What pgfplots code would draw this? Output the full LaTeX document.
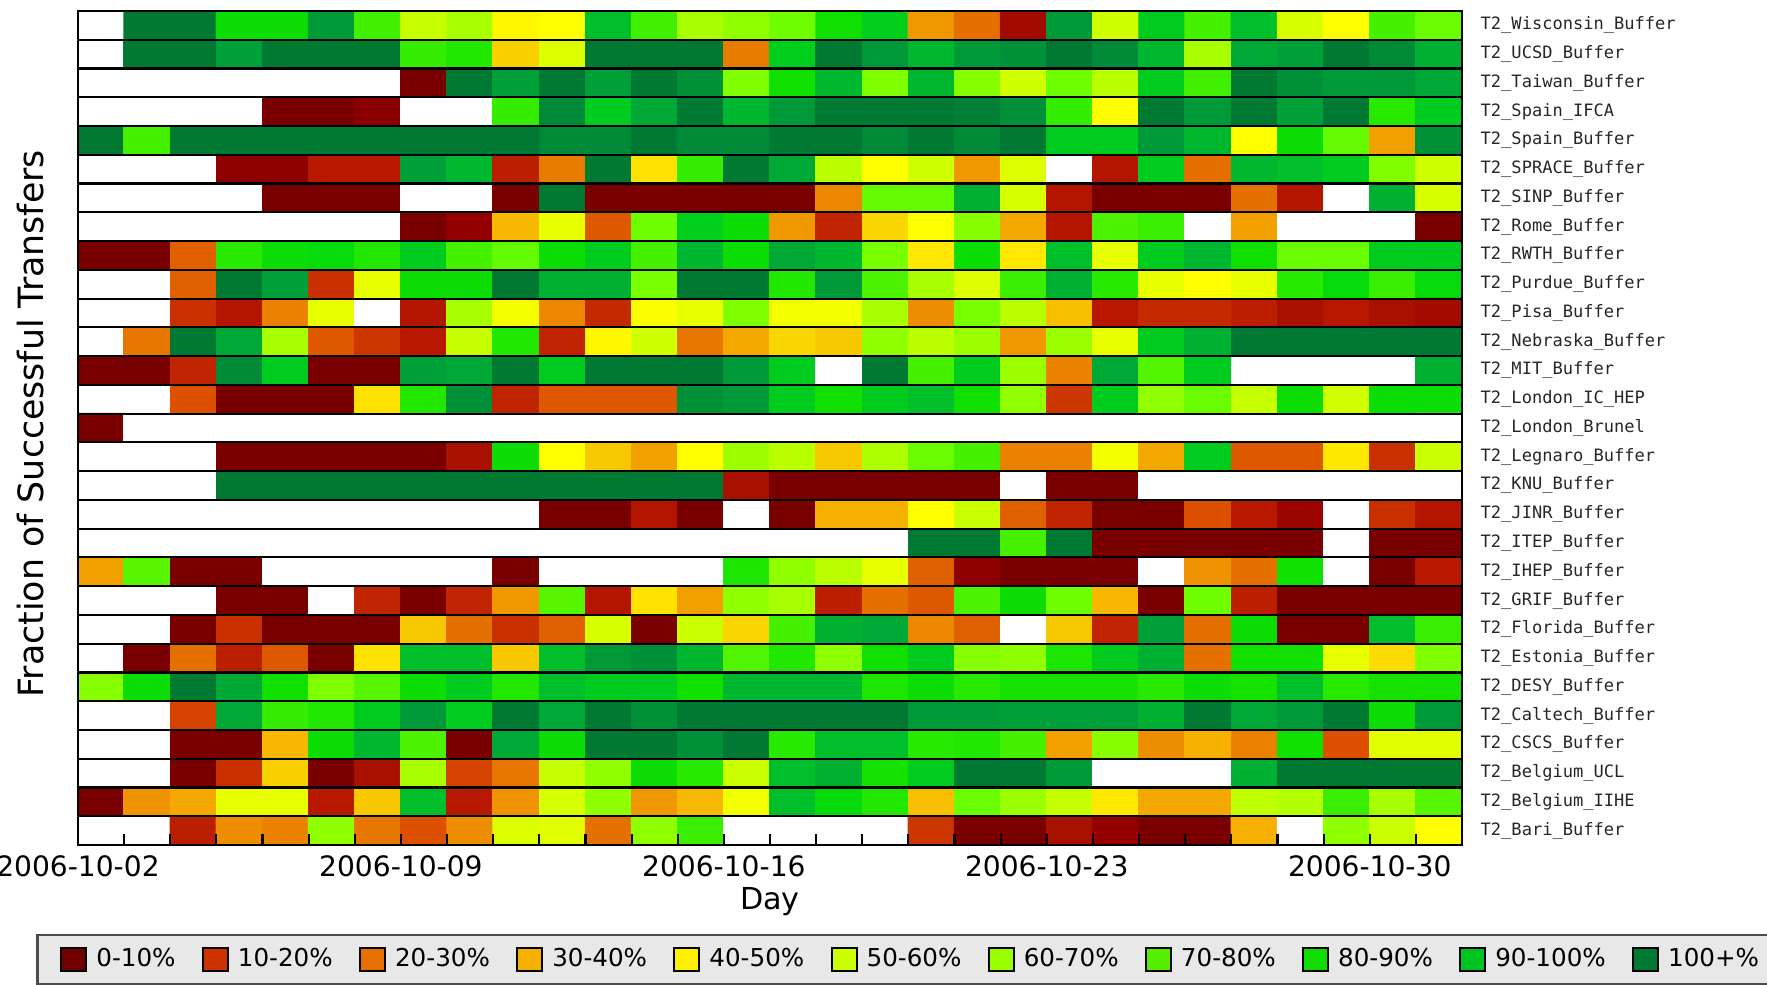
\documentclass[border=0pt]{standalone}
\usepackage{fontspec}
\setmainfont{DejaVu Sans}
\newfontfamily\labfont{DejaVu Sans Mono}
\usepackage{pgfplots}
\pgfplotsset{compat=1.18}
\usetikzlibrary{calc}
\definecolor{lc0}{HTML}{700000}
\definecolor{lc1}{HTML}{CC3300}
\definecolor{lc2}{HTML}{E67000}
\definecolor{lc3}{HTML}{F5B000}
\definecolor{lc4}{HTML}{FFF000}
\definecolor{lc5}{HTML}{CCFF00}
\definecolor{lc6}{HTML}{99FF00}
\definecolor{lc7}{HTML}{55EE00}
\definecolor{lc8}{HTML}{11DD00}
\definecolor{lc9}{HTML}{00C520}
\definecolor{lc10}{HTML}{007A33}
\definecolor{legbg}{HTML}{E8E8E8}
\begin{document}
\begin{tikzpicture}
\begin{axis}[
  scale only axis, width=13.84cm, height=8.34cm,
  xmin=0, xmax=30, ymin=0, ymax=29, y dir=reverse,
  axis on top,
  axis line style={black, line width=0.6pt},
  colormap={hm}{rgb255(0pt)=(255,255,255) rgb255(9pt)=(255,255,255) rgb255(12pt)=(122,0,0) rgb255(17pt)=(148,0,0) rgb255(20pt)=(168,16,0) rgb255(23pt)=(184,24,0) rgb255(27pt)=(200,48,0) rgb255(32pt)=(220,80,0) rgb255(36pt)=(228,112,0) rgb255(40pt)=(236,136,0) rgb255(43pt)=(240,152,0) rgb255(46pt)=(245,176,0) rgb255(50pt)=(248,208,0) rgb255(54pt)=(255,232,0) rgb255(57pt)=(255,255,0) rgb255(61pt)=(232,255,0) rgb255(65pt)=(208,255,0) rgb255(68pt)=(192,255,0) rgb255(72pt)=(168,255,0) rgb255(76pt)=(144,255,0) rgb255(80pt)=(112,255,0) rgb255(84pt)=(88,245,0) rgb255(88pt)=(64,240,0) rgb255(92pt)=(40,234,0) rgb255(96pt)=(16,224,0) rgb255(99pt)=(0,216,16) rgb255(102pt)=(0,204,32) rgb255(105pt)=(0,184,48) rgb255(108pt)=(0,160,56) rgb255(111pt)=(0,138,56) rgb255(114pt)=(0,122,51)},
  point meta min=-10, point meta max=104,
  xtick={0,7,14,21,28},
  xticklabels={2006-10-02,2006-10-09,2006-10-16,2006-10-23,2006-10-30},
  minor xtick={1,...,29},
  xtick pos=left,
  major tick length=0.11cm, minor tick length=0.11cm,
  tick style={black, line width=0.6pt},
  xticklabel style={font=\fontsize{8}{9}\selectfont, inner sep=0pt, anchor=north, yshift=-0.1cm},
  ytick={0.5,1.5,...,28.5},
  yticklabels={T2\_Wisconsin\_Buffer, T2\_UCSD\_Buffer, T2\_Taiwan\_Buffer, T2\_Spain\_IFCA, T2\_Spain\_Buffer, T2\_SPRACE\_Buffer, T2\_SINP\_Buffer, T2\_Rome\_Buffer, T2\_RWTH\_Buffer, T2\_Purdue\_Buffer, T2\_Pisa\_Buffer, T2\_Nebraska\_Buffer, T2\_MIT\_Buffer, T2\_London\_IC\_HEP, T2\_London\_Brunel, T2\_Legnaro\_Buffer, T2\_KNU\_Buffer, T2\_JINR\_Buffer, T2\_ITEP\_Buffer, T2\_IHEP\_Buffer, T2\_GRIF\_Buffer, T2\_Florida\_Buffer, T2\_Estonia\_Buffer, T2\_DESY\_Buffer, T2\_Caltech\_Buffer, T2\_CSCS\_Buffer, T2\_Belgium\_UCL, T2\_Belgium\_IIHE, T2\_Bari\_Buffer},
  yticklabel pos=right,
  ytick style={draw=none},
  yticklabel style={font=\labfont\fontsize{4.85}{6}\selectfont, anchor=west, inner sep=0pt, xshift=0.18cm, text=black!85},
  minor ytick={1,...,28},
  yminorgrids=true,
  minor grid style={black, line width=0.6pt},
  ylabel={Fraction of Successful Transfers},
  every axis y label/.style={at={(axis description cs:-0.034,0.505)}, rotate=90, anchor=center, font=\fontsize{9.9}{11}\selectfont},
  xlabel={Day},
  every axis x label/.style={at={(axis description cs:0.5,-0.0675)}, anchor=center, font=\fontsize{8.6}{10}\selectfont},
  legend columns=11,
  legend image code/.code={\draw[#1, draw=black, line width=0.6pt] (0cm,-0.115cm) rectangle (0.25cm,0.115cm);},
  legend style={at={(axis description cs:-0.0303,-0.1067)}, anchor=north west,
    fill=legbg, draw=black!70, line width=0.7pt,
    inner xsep=0.23cm, inner ysep=0.12cm,
    font=\fontsize{7}{8}\selectfont,
    nodes={inner sep=0pt, anchor=west},
    /tikz/every odd column/.append style={column sep=0.09cm},
    /tikz/every even column/.append style={column sep=0.262cm}},
]
\addplot[matrix plot*, mesh/cols=30, point meta=explicit, forget plot] coordinates {
(0.5,0.5)[-10] (1.5,0.5)[104] (2.5,0.5)[104] (3.5,0.5)[87] (4.5,0.5)[87] (5.5,0.5)[99] (6.5,0.5)[78] (7.5,0.5)[57] (8.5,0.5)[62] (9.5,0.5)[46] (10.5,0.5)[47] (11.5,0.5)[94] (12.5,0.5)[78] (13.5,0.5)[62] (14.5,0.5)[66] (15.5,0.5)[70] (16.5,0.5)[86] (17.5,0.5)[91] (18.5,0.5)[33] (19.5,0.5)[26] (20.5,0.5)[9] (21.5,0.5)[99] (22.5,0.5)[55] (23.5,0.5)[92] (24.5,0.5)[77] (25.5,0.5)[94] (26.5,0.5)[54] (27.5,0.5)[47] (28.5,0.5)[77] (29.5,0.5)[71]
(0.5,1.5)[-10] (1.5,1.5)[104] (2.5,1.5)[104] (3.5,1.5)[98] (4.5,1.5)[104] (5.5,1.5)[104] (6.5,1.5)[104] (7.5,1.5)[80] (8.5,1.5)[83] (9.5,1.5)[40] (10.5,1.5)[53] (11.5,1.5)[104] (12.5,1.5)[104] (13.5,1.5)[104] (14.5,1.5)[28] (15.5,1.5)[91] (16.5,1.5)[104] (17.5,1.5)[99] (18.5,1.5)[95] (19.5,1.5)[99] (20.5,1.5)[100] (21.5,1.5)[104] (22.5,1.5)[101] (23.5,1.5)[95] (24.5,1.5)[62] (25.5,1.5)[97] (26.5,1.5)[98] (27.5,1.5)[104] (28.5,1.5)[101] (29.5,1.5)[96]
(0.5,2.5)[-10] (1.5,2.5)[-10] (2.5,2.5)[-10] (3.5,2.5)[-10] (4.5,2.5)[-10] (5.5,2.5)[-10] (6.5,2.5)[-10] (7.5,2.5)[2] (8.5,2.5)[104] (9.5,2.5)[98] (10.5,2.5)[104] (11.5,2.5)[98] (12.5,2.5)[104] (13.5,2.5)[100] (14.5,2.5)[68] (15.5,2.5)[86] (16.5,2.5)[95] (17.5,2.5)[68] (18.5,2.5)[95] (19.5,2.5)[67] (20.5,2.5)[55] (21.5,2.5)[70] (22.5,2.5)[59] (23.5,2.5)[92] (24.5,2.5)[78] (25.5,2.5)[104] (26.5,2.5)[100] (27.5,2.5)[99] (28.5,2.5)[99] (29.5,2.5)[97]
(0.5,3.5)[-10] (1.5,3.5)[-10] (2.5,3.5)[-10] (3.5,3.5)[-10] (4.5,3.5)[2] (5.5,3.5)[2] (6.5,3.5)[5] (7.5,3.5)[-10] (8.5,3.5)[-10] (9.5,3.5)[80] (10.5,3.5)[101] (11.5,3.5)[92] (12.5,3.5)[97] (13.5,3.5)[104] (14.5,3.5)[95] (15.5,3.5)[99] (16.5,3.5)[104] (17.5,3.5)[104] (18.5,3.5)[104] (19.5,3.5)[103] (20.5,3.5)[100] (21.5,3.5)[80] (22.5,3.5)[47] (23.5,3.5)[104] (24.5,3.5)[99] (25.5,3.5)[104] (26.5,3.5)[98] (27.5,3.5)[104] (28.5,3.5)[82] (29.5,3.5)[92]
(0.5,4.5)[104] (1.5,4.5)[77] (2.5,4.5)[104] (3.5,4.5)[104] (4.5,4.5)[104] (5.5,4.5)[104] (6.5,4.5)[104] (7.5,4.5)[104] (8.5,4.5)[104] (9.5,4.5)[104] (10.5,4.5)[101] (11.5,4.5)[101] (12.5,4.5)[104] (13.5,4.5)[101] (14.5,4.5)[101] (15.5,4.5)[104] (16.5,4.5)[104] (17.5,4.5)[101] (18.5,4.5)[104] (19.5,4.5)[101] (20.5,4.5)[104] (21.5,4.5)[92] (22.5,4.5)[92] (23.5,4.5)[99] (24.5,4.5)[95] (25.5,4.5)[47] (26.5,4.5)[87] (27.5,4.5)[72] (28.5,4.5)[34] (29.5,4.5)[100]
(0.5,5.5)[-10] (1.5,5.5)[-10] (2.5,5.5)[-10] (3.5,5.5)[6] (4.5,5.5)[6] (5.5,5.5)[13] (6.5,5.5)[13] (7.5,5.5)[98] (8.5,5.5)[95] (9.5,5.5)[14] (10.5,5.5)[28] (11.5,5.5)[104] (12.5,5.5)[43] (13.5,5.5)[80] (14.5,5.5)[104] (15.5,5.5)[97] (16.5,5.5)[59] (17.5,5.5)[47] (18.5,5.5)[55] (19.5,5.5)[33] (20.5,5.5)[53] (21.5,5.5)[-10] (22.5,5.5)[12] (23.5,5.5)[92] (24.5,5.5)[26] (25.5,5.5)[95] (26.5,5.5)[94] (27.5,5.5)[92] (28.5,5.5)[68] (29.5,5.5)[55]
(0.5,6.5)[-10] (1.5,6.5)[-10] (2.5,6.5)[-10] (3.5,6.5)[-10] (4.5,6.5)[2] (5.5,6.5)[2] (6.5,6.5)[2] (7.5,6.5)[-10] (8.5,6.5)[-10] (9.5,6.5)[2] (10.5,6.5)[104] (11.5,6.5)[2] (12.5,6.5)[2] (13.5,6.5)[2] (14.5,6.5)[2] (15.5,6.5)[2] (16.5,6.5)[30] (17.5,6.5)[72] (18.5,6.5)[72] (19.5,6.5)[96] (20.5,6.5)[54] (21.5,6.5)[12] (22.5,6.5)[2] (23.5,6.5)[2] (24.5,6.5)[2] (25.5,6.5)[26] (26.5,6.5)[12] (27.5,6.5)[-10] (28.5,6.5)[96] (29.5,6.5)[54]
(0.5,7.5)[-10] (1.5,7.5)[-10] (2.5,7.5)[-10] (3.5,7.5)[-10] (4.5,7.5)[-10] (5.5,7.5)[-10] (6.5,7.5)[-10] (7.5,7.5)[2] (8.5,7.5)[7] (9.5,7.5)[37] (10.5,7.5)[51] (11.5,7.5)[23] (12.5,7.5)[70] (13.5,7.5)[91] (14.5,7.5)[87] (15.5,7.5)[33] (16.5,7.5)[15] (17.5,7.5)[41] (18.5,7.5)[47] (19.5,7.5)[67] (20.5,7.5)[35] (21.5,7.5)[12] (22.5,7.5)[76] (23.5,7.5)[79] (24.5,7.5)[-10] (25.5,7.5)[34] (26.5,7.5)[-10] (27.5,7.5)[-10] (28.5,7.5)[-10] (29.5,7.5)[2]
(0.5,8.5)[2] (1.5,8.5)[2] (2.5,8.5)[24] (3.5,8.5)[82] (4.5,8.5)[87] (5.5,8.5)[88] (6.5,8.5)[83] (7.5,8.5)[92] (8.5,8.5)[77] (9.5,8.5)[72] (10.5,8.5)[87] (11.5,8.5)[92] (12.5,8.5)[77] (13.5,8.5)[95] (14.5,8.5)[87] (15.5,8.5)[97] (16.5,8.5)[95] (17.5,8.5)[69] (18.5,8.5)[44] (19.5,8.5)[87] (20.5,8.5)[44] (21.5,8.5)[94] (22.5,8.5)[51] (23.5,8.5)[92] (24.5,8.5)[95] (25.5,8.5)[86] (26.5,8.5)[71] (27.5,8.5)[71] (28.5,8.5)[92] (29.5,8.5)[92]
(0.5,9.5)[-10] (1.5,9.5)[-10] (2.5,9.5)[24] (3.5,9.5)[104] (4.5,9.5)[98] (5.5,9.5)[17] (6.5,9.5)[51] (7.5,9.5)[87] (8.5,9.5)[87] (9.5,9.5)[104] (10.5,9.5)[96] (11.5,9.5)[96] (12.5,9.5)[69] (13.5,9.5)[104] (14.5,9.5)[104] (15.5,9.5)[83] (16.5,9.5)[99] (17.5,9.5)[76] (18.5,9.5)[62] (19.5,9.5)[53] (20.5,9.5)[79] (21.5,9.5)[96] (22.5,9.5)[82] (23.5,9.5)[51] (24.5,9.5)[47] (25.5,9.5)[51] (26.5,9.5)[82] (27.5,9.5)[88] (28.5,9.5)[79] (29.5,9.5)[88]
(0.5,10.5)[-10] (1.5,10.5)[-10] (2.5,10.5)[17] (3.5,10.5)[12] (4.5,10.5)[29] (5.5,10.5)[51] (6.5,10.5)[-10] (7.5,10.5)[12] (8.5,10.5)[62] (9.5,10.5)[49] (10.5,10.5)[30] (11.5,10.5)[16] (12.5,10.5)[48] (13.5,10.5)[51] (14.5,10.5)[68] (15.5,10.5)[49] (16.5,10.5)[49] (17.5,10.5)[62] (18.5,10.5)[31] (19.5,10.5)[69] (20.5,10.5)[59] (21.5,10.5)[38] (22.5,10.5)[13] (23.5,10.5)[16] (24.5,10.5)[16] (25.5,10.5)[14] (26.5,10.5)[10] (27.5,10.5)[13] (28.5,10.5)[10] (29.5,10.5)[9]
(0.5,11.5)[-10] (1.5,11.5)[27] (2.5,11.5)[104] (3.5,11.5)[97] (4.5,11.5)[62] (5.5,11.5)[23] (6.5,11.5)[18] (7.5,11.5)[13] (8.5,11.5)[57] (9.5,11.5)[83] (10.5,11.5)[15] (11.5,11.5)[46] (12.5,11.5)[55] (13.5,11.5)[27] (14.5,11.5)[35] (15.5,11.5)[41] (16.5,11.5)[39] (17.5,11.5)[66] (18.5,11.5)[59] (19.5,11.5)[64] (20.5,11.5)[33] (21.5,11.5)[64] (22.5,11.5)[51] (23.5,11.5)[92] (24.5,11.5)[96] (25.5,11.5)[104] (26.5,11.5)[104] (27.5,11.5)[104] (28.5,11.5)[104] (29.5,11.5)[104]
(0.5,12.5)[2] (1.5,12.5)[2] (2.5,12.5)[15] (3.5,12.5)[101] (4.5,12.5)[92] (5.5,12.5)[2] (6.5,12.5)[2] (7.5,12.5)[98] (8.5,12.5)[97] (9.5,12.5)[104] (10.5,12.5)[92] (11.5,12.5)[104] (12.5,12.5)[104] (13.5,12.5)[104] (14.5,12.5)[99] (15.5,12.5)[92] (16.5,12.5)[-10] (17.5,12.5)[104] (18.5,12.5)[77] (19.5,12.5)[92] (20.5,12.5)[64] (21.5,12.5)[29] (22.5,12.5)[97] (23.5,12.5)[75] (24.5,12.5)[92] (25.5,12.5)[-10] (26.5,12.5)[-10] (27.5,12.5)[-10] (28.5,12.5)[-10] (29.5,12.5)[96]
(0.5,13.5)[-10] (1.5,13.5)[-10] (2.5,13.5)[22] (3.5,13.5)[2] (4.5,13.5)[2] (5.5,13.5)[2] (6.5,13.5)[43] (7.5,13.5)[83] (8.5,13.5)[100] (9.5,13.5)[15] (10.5,13.5)[23] (11.5,13.5)[23] (12.5,13.5)[23] (13.5,13.5)[100] (14.5,13.5)[99] (15.5,13.5)[92] (16.5,13.5)[86] (17.5,13.5)[92] (18.5,13.5)[94] (19.5,13.5)[86] (20.5,13.5)[66] (21.5,13.5)[18] (22.5,13.5)[92] (23.5,13.5)[66] (24.5,13.5)[71] (25.5,13.5)[57] (26.5,13.5)[87] (27.5,13.5)[55] (28.5,13.5)[87] (29.5,13.5)[87]
(0.5,14.5)[2] (1.5,14.5)[-10] (2.5,14.5)[-10] (3.5,14.5)[-10] (4.5,14.5)[-10] (5.5,14.5)[-10] (6.5,14.5)[-10] (7.5,14.5)[-10] (8.5,14.5)[-10] (9.5,14.5)[-10] (10.5,14.5)[-10] (11.5,14.5)[-10] (12.5,14.5)[-10] (13.5,14.5)[-10] (14.5,14.5)[-10] (15.5,14.5)[-10] (16.5,14.5)[-10] (17.5,14.5)[-10] (18.5,14.5)[-10] (19.5,14.5)[-10] (20.5,14.5)[-10] (21.5,14.5)[-10] (22.5,14.5)[-10] (23.5,14.5)[-10] (24.5,14.5)[-10] (25.5,14.5)[-10] (26.5,14.5)[-10] (27.5,14.5)[-10] (28.5,14.5)[-10] (29.5,14.5)[-10]
(0.5,15.5)[-10] (1.5,15.5)[-10] (2.5,15.5)[-10] (3.5,15.5)[2] (4.5,15.5)[2] (5.5,15.5)[2] (6.5,15.5)[2] (7.5,15.5)[2] (8.5,15.5)[10] (9.5,15.5)[87] (10.5,15.5)[47] (11.5,15.5)[39] (12.5,15.5)[34] (13.5,15.5)[47] (14.5,15.5)[64] (15.5,15.5)[59] (16.5,15.5)[39] (17.5,15.5)[61] (18.5,15.5)[71] (19.5,15.5)[77] (20.5,15.5)[29] (21.5,15.5)[29] (22.5,15.5)[49] (23.5,15.5)[35] (24.5,15.5)[92] (25.5,15.5)[23] (26.5,15.5)[23] (27.5,15.5)[44] (28.5,15.5)[17] (29.5,15.5)[56]
(0.5,16.5)[-10] (1.5,16.5)[-10] (2.5,16.5)[-10] (3.5,16.5)[104] (4.5,16.5)[104] (5.5,16.5)[104] (6.5,16.5)[104] (7.5,16.5)[104] (8.5,16.5)[104] (9.5,16.5)[104] (10.5,16.5)[104] (11.5,16.5)[104] (12.5,16.5)[104] (13.5,16.5)[104] (14.5,16.5)[10] (15.5,16.5)[2] (16.5,16.5)[2] (17.5,16.5)[2] (18.5,16.5)[2] (19.5,16.5)[2] (20.5,16.5)[-10] (21.5,16.5)[2] (22.5,16.5)[2] (23.5,16.5)[-10] (24.5,16.5)[-10] (25.5,16.5)[-10] (26.5,16.5)[-10] (27.5,16.5)[-10] (28.5,16.5)[-10] (29.5,16.5)[-10]
(0.5,17.5)[-10] (1.5,17.5)[-10] (2.5,17.5)[-10] (3.5,17.5)[-10] (4.5,17.5)[-10] (5.5,17.5)[-10] (6.5,17.5)[-10] (7.5,17.5)[-10] (8.5,17.5)[-10] (9.5,17.5)[-10] (10.5,17.5)[2] (11.5,17.5)[2] (12.5,17.5)[12] (13.5,17.5)[2] (14.5,17.5)[-10] (15.5,17.5)[2] (16.5,17.5)[36] (17.5,17.5)[36] (18.5,17.5)[47] (19.5,17.5)[56] (20.5,17.5)[24] (21.5,17.5)[15] (22.5,17.5)[2] (23.5,17.5)[2] (24.5,17.5)[22] (25.5,17.5)[13] (26.5,17.5)[8] (27.5,17.5)[-10] (28.5,17.5)[17] (29.5,17.5)[12]
(0.5,18.5)[-10] (1.5,18.5)[-10] (2.5,18.5)[-10] (3.5,18.5)[-10] (4.5,18.5)[-10] (5.5,18.5)[-10] (6.5,18.5)[-10] (7.5,18.5)[-10] (8.5,18.5)[-10] (9.5,18.5)[-10] (10.5,18.5)[-10] (11.5,18.5)[-10] (12.5,18.5)[-10] (13.5,18.5)[-10] (14.5,18.5)[-10] (15.5,18.5)[-10] (16.5,18.5)[-10] (17.5,18.5)[-10] (18.5,18.5)[104] (19.5,18.5)[104] (20.5,18.5)[77] (21.5,18.5)[104] (22.5,18.5)[2] (23.5,18.5)[2] (24.5,18.5)[2] (25.5,18.5)[2] (26.5,18.5)[2] (27.5,18.5)[-10] (28.5,18.5)[2] (29.5,18.5)[2]
(0.5,19.5)[34] (1.5,19.5)[74] (2.5,19.5)[2] (3.5,19.5)[2] (4.5,19.5)[-10] (5.5,19.5)[-10] (6.5,19.5)[-10] (7.5,19.5)[-10] (8.5,19.5)[-10] (9.5,19.5)[2] (10.5,19.5)[-10] (11.5,19.5)[-10] (12.5,19.5)[-10] (13.5,19.5)[-10] (14.5,19.5)[84] (15.5,19.5)[66] (16.5,19.5)[59] (17.5,19.5)[51] (18.5,19.5)[24] (19.5,19.5)[6] (20.5,19.5)[2] (21.5,19.5)[2] (22.5,19.5)[2] (23.5,19.5)[-10] (24.5,19.5)[32] (25.5,19.5)[26] (26.5,19.5)[86] (27.5,19.5)[-10] (28.5,19.5)[2] (29.5,19.5)[13]
(0.5,20.5)[-10] (1.5,20.5)[-10] (2.5,20.5)[-10] (3.5,20.5)[2] (4.5,20.5)[2] (5.5,20.5)[-10] (6.5,20.5)[15] (7.5,20.5)[2] (8.5,20.5)[15] (9.5,20.5)[33] (10.5,20.5)[74] (11.5,20.5)[12] (12.5,20.5)[43] (13.5,20.5)[34] (14.5,20.5)[66] (15.5,20.5)[62] (16.5,20.5)[14] (17.5,20.5)[26] (18.5,20.5)[23] (19.5,20.5)[76] (20.5,20.5)[87] (21.5,20.5)[70] (22.5,20.5)[37] (23.5,20.5)[2] (24.5,20.5)[70] (25.5,20.5)[14] (26.5,20.5)[2] (27.5,20.5)[2] (28.5,20.5)[2] (29.5,20.5)[2]
(0.5,21.5)[-10] (1.5,21.5)[-10] (2.5,21.5)[2] (3.5,21.5)[17] (4.5,21.5)[2] (5.5,21.5)[2] (6.5,21.5)[2] (7.5,21.5)[39] (8.5,21.5)[26] (9.5,21.5)[17] (10.5,21.5)[24] (11.5,21.5)[54] (12.5,21.5)[2] (13.5,21.5)[56] (14.5,21.5)[41] (15.5,21.5)[77] (16.5,21.5)[96] (17.5,21.5)[97] (18.5,21.5)[30] (19.5,21.5)[24] (20.5,21.5)[-10] (21.5,21.5)[39] (22.5,21.5)[15] (23.5,21.5)[98] (24.5,21.5)[26] (25.5,21.5)[87] (26.5,21.5)[2] (27.5,21.5)[2] (28.5,21.5)[94] (29.5,21.5)[79]
(0.5,22.5)[-10] (1.5,22.5)[2] (2.5,22.5)[26] (3.5,22.5)[14] (4.5,22.5)[23] (5.5,22.5)[2] (6.5,22.5)[43] (7.5,22.5)[94] (8.5,22.5)[94] (9.5,22.5)[39] (10.5,22.5)[94] (11.5,22.5)[99] (12.5,22.5)[100] (13.5,22.5)[95] (14.5,22.5)[75] (15.5,22.5)[83] (16.5,22.5)[66] (17.5,22.5)[86] (18.5,22.5)[92] (19.5,22.5)[67] (20.5,22.5)[66] (21.5,22.5)[84] (22.5,22.5)[92] (23.5,22.5)[96] (24.5,22.5)[26] (25.5,22.5)[86] (26.5,22.5)[86] (27.5,22.5)[51] (28.5,22.5)[42] (29.5,22.5)[68]
(0.5,23.5)[67] (1.5,23.5)[87] (2.5,23.5)[104] (3.5,23.5)[97] (4.5,23.5)[86] (5.5,23.5)[68] (6.5,23.5)[74] (7.5,23.5)[87] (8.5,23.5)[92] (9.5,23.5)[83] (10.5,23.5)[94] (11.5,23.5)[92] (12.5,23.5)[92] (13.5,23.5)[86] (14.5,23.5)[95] (15.5,23.5)[95] (16.5,23.5)[95] (17.5,23.5)[84] (18.5,23.5)[87] (19.5,23.5)[82] (20.5,23.5)[85] (21.5,23.5)[85] (22.5,23.5)[85] (23.5,23.5)[82] (24.5,23.5)[87] (25.5,23.5)[85] (26.5,23.5)[94] (27.5,23.5)[82] (28.5,23.5)[85] (29.5,23.5)[85]
(0.5,24.5)[-10] (1.5,24.5)[-10] (2.5,24.5)[20] (3.5,24.5)[97] (4.5,24.5)[80] (5.5,24.5)[83] (6.5,24.5)[92] (7.5,24.5)[99] (8.5,24.5)[92] (9.5,24.5)[104] (10.5,24.5)[97] (11.5,24.5)[104] (12.5,24.5)[100] (13.5,24.5)[104] (14.5,24.5)[104] (15.5,24.5)[104] (16.5,24.5)[104] (17.5,24.5)[104] (18.5,24.5)[99] (19.5,24.5)[99] (20.5,24.5)[98] (21.5,24.5)[98] (22.5,24.5)[98] (23.5,24.5)[96] (24.5,24.5)[104] (25.5,24.5)[97] (26.5,24.5)[99] (27.5,24.5)[104] (28.5,24.5)[87] (29.5,24.5)[99]
(0.5,25.5)[-10] (1.5,25.5)[-10] (2.5,25.5)[2] (3.5,25.5)[2] (4.5,25.5)[37] (5.5,25.5)[87] (6.5,25.5)[95] (7.5,25.5)[76] (8.5,25.5)[2] (9.5,25.5)[97] (10.5,25.5)[87] (11.5,25.5)[104] (12.5,25.5)[104] (13.5,25.5)[100] (14.5,25.5)[104] (15.5,25.5)[82] (16.5,25.5)[94] (17.5,25.5)[94] (18.5,25.5)[82] (19.5,25.5)[83] (20.5,25.5)[77] (21.5,25.5)[34] (22.5,25.5)[67] (23.5,25.5)[31] (24.5,25.5)[36] (25.5,25.5)[29] (26.5,25.5)[86] (27.5,25.5)[22] (28.5,25.5)[52] (29.5,25.5)[52]
(0.5,26.5)[-10] (1.5,26.5)[-10] (2.5,26.5)[2] (3.5,26.5)[17] (4.5,26.5)[40] (5.5,26.5)[2] (6.5,26.5)[10] (7.5,26.5)[62] (8.5,26.5)[20] (9.5,26.5)[27] (10.5,26.5)[57] (11.5,26.5)[66] (12.5,26.5)[87] (13.5,26.5)[82] (14.5,26.5)[56] (15.5,26.5)[94] (16.5,26.5)[96] (17.5,26.5)[85] (18.5,26.5)[92] (19.5,26.5)[104] (20.5,26.5)[104] (21.5,26.5)[99] (22.5,26.5)[-10] (23.5,26.5)[-10] (24.5,26.5)[-10] (25.5,26.5)[96] (26.5,26.5)[104] (27.5,26.5)[104] (28.5,26.5)[104] (29.5,26.5)[104]
(0.5,27.5)[2] (1.5,27.5)[32] (2.5,27.5)[35] (3.5,27.5)[51] (4.5,27.5)[51] (5.5,27.5)[13] (6.5,27.5)[39] (7.5,27.5)[94] (8.5,27.5)[13] (9.5,27.5)[32] (10.5,27.5)[54] (11.5,27.5)[66] (12.5,27.5)[33] (13.5,27.5)[37] (14.5,27.5)[49] (15.5,27.5)[94] (16.5,27.5)[88] (17.5,27.5)[83] (18.5,27.5)[38] (19.5,27.5)[71] (20.5,27.5)[64] (21.5,27.5)[57] (22.5,27.5)[44] (23.5,27.5)[35] (24.5,27.5)[35] (25.5,27.5)[58] (26.5,27.5)[60] (27.5,27.5)[79] (28.5,27.5)[62] (29.5,27.5)[74]
(0.5,28.5)[-10] (1.5,28.5)[-10] (2.5,28.5)[14] (3.5,28.5)[31] (4.5,28.5)[29] (5.5,28.5)[66] (6.5,28.5)[27] (7.5,28.5)[22] (8.5,28.5)[31] (9.5,28.5)[53] (10.5,28.5)[52] (11.5,28.5)[26] (12.5,28.5)[66] (13.5,28.5)[79] (14.5,28.5)[-10] (15.5,28.5)[-10] (16.5,28.5)[-10] (17.5,28.5)[-10] (18.5,28.5)[18] (19.5,28.5)[2] (20.5,28.5)[2] (21.5,28.5)[10] (22.5,28.5)[7] (23.5,28.5)[2] (24.5,28.5)[2] (25.5,28.5)[36] (26.5,28.5)[-10] (27.5,28.5)[66] (28.5,28.5)[56] (29.5,28.5)[47]
};
\addlegendimage{fill=lc0}\addlegendentry{0-10\%}
\addlegendimage{fill=lc1}\addlegendentry{10-20\%}
\addlegendimage{fill=lc2}\addlegendentry{20-30\%}
\addlegendimage{fill=lc3}\addlegendentry{30-40\%}
\addlegendimage{fill=lc4}\addlegendentry{40-50\%}
\addlegendimage{fill=lc5}\addlegendentry{50-60\%}
\addlegendimage{fill=lc6}\addlegendentry{60-70\%}
\addlegendimage{fill=lc7}\addlegendentry{70-80\%}
\addlegendimage{fill=lc8}\addlegendentry{80-90\%}
\addlegendimage{fill=lc9}\addlegendentry{90-100\%}
\addlegendimage{fill=lc10}\addlegendentry{100+\%}
\end{axis}
\pgfresetboundingbox
\path[use as bounding box] ($(current axis.south west)+(-0.78cm,-1.40cm)$) rectangle ($(current axis.north east)+(3.05cm,0.11cm)$);
\end{tikzpicture}
\end{document}
